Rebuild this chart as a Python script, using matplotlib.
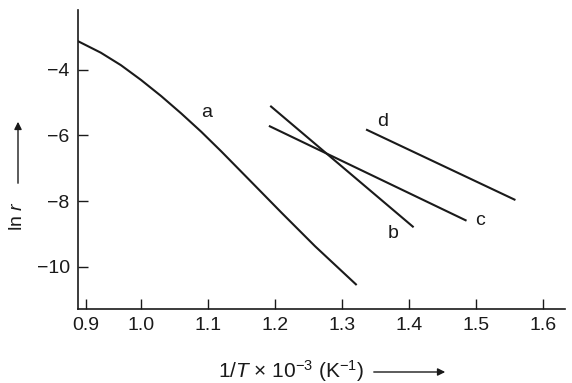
import matplotlib
matplotlib.use('Agg')
import matplotlib.pyplot as plt

plt.rcParams['font.family'] = ['Liberation Sans', 'DejaVu Sans']
plt.rcParams['mathtext.fontset'] = 'custom'
plt.rcParams['mathtext.rm'] = 'Liberation Sans'
plt.rcParams['mathtext.it'] = 'Liberation Sans:italic'

# curve a
a_x = [0.905, 0.940, 0.970, 1.000, 1.030, 1.060, 1.090, 1.120, 1.160, 1.210, 1.260, 1.322]
a_y = [-3.12, -3.48, -3.86, -4.31, -4.80, -5.33, -5.89, -6.49, -7.32, -8.36, -9.38, -10.56]

# straight lines b, c, d (end points)
b_x = [1.193, 1.407]
b_y = [-5.10, -8.80]
c_x = [1.191, 1.486]
c_y = [-5.71, -8.60]
d_x = [1.336, 1.559]
d_y = [-5.82, -7.97]

labels = ['a', 'b', 'c', 'd']
label_x = [1.098, 1.377, 1.506, 1.361]
label_y = [-5.31, -8.98, -8.60, -5.58]

xticks = [0.918, 1.0, 1.1, 1.2, 1.3, 1.4, 1.5, 1.6]
xticklabels = ['0.9', '1.0', '1.1', '1.2', '1.3', '1.4', '1.5', '1.6']
yticks = [-4, -6, -8, -10]

fig = plt.figure(figsize=(5.72, 3.83), dpi=100)
ax = fig.add_axes([78 / 572, 1 - 309 / 383, (565 - 78) / 572, (309 - 10) / 383])

for xs, ys in [(a_x, a_y), (b_x, b_y), (c_x, c_y), (d_x, d_y)]:
    ax.plot(xs, ys, color='#1a1a1a', lw=1.5, solid_capstyle='butt',
            solid_joinstyle='round')

for lab, lx, ly in zip(labels, label_x, label_y):
    ax.text(lx, ly, lab, fontsize=14, ha='center', va='center', color='#1a1a1a')

ax.set_xlim(0.906, 1.633)
ax.set_ylim(-11.29, -2.18)
ax.set_xticks(xticks)
ax.set_xticklabels(xticklabels)
ax.set_yticks(yticks)
ax.tick_params(direction='in', length=7, width=1, labelsize=14, pad=6, colors='#1a1a1a')
for side in ['top', 'right']:
    ax.spines[side].set_visible(False)
for side in ['left', 'bottom']:
    ax.spines[side].set_linewidth(1.2)
    ax.spines[side].set_color('#1a1a1a')


def fx(px):
    return px / 572


def fy(py):
    return 1 - py / 383


# y axis label with arrow
fig.text(fx(17), fy(216), r'ln $r$', rotation=90, fontsize=14,
         ha='center', va='center', color='#1a1a1a')
fig.patches.append(matplotlib.patches.FancyArrowPatch(
    (fx(18), fy(186)), (fx(18), fy(119)), transform=fig.transFigure,
    arrowstyle='-|>', mutation_scale=11, lw=1, color='#1a1a1a'))

# x axis label with arrow
fig.text(fx(291), fy(371), r'1/$T$ × 10$^{-3}$ (K$^{-1}$)', fontsize=15,
         ha='center', va='center', color='#1a1a1a')
fig.patches.append(matplotlib.patches.FancyArrowPatch(
    (fx(371), fy(372)), (fx(448), fy(372)), transform=fig.transFigure,
    arrowstyle='-|>', mutation_scale=11, lw=1, color='#1a1a1a'))

fig.savefig('out.png', dpi=100)
